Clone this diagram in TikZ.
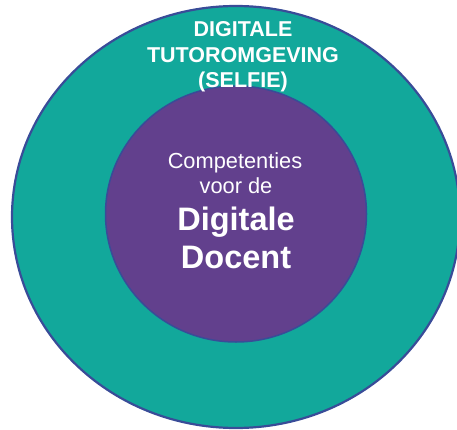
\documentclass[tikz,border=0pt]{standalone}
\usepackage{fontspec}
\usetikzlibrary{shapes.geometric}
\setmainfont{Liberation Sans}
\definecolor{tealbg}{HTML}{12A89B}
\definecolor{purplebg}{HTML}{62408D}
\definecolor{rimblue}{HTML}{394C98}
\begin{document}
\begin{tikzpicture}[x=1pt,y=1pt,
  ring/.style={draw=rimblue},
  toptext/.style={text=white,font=\bfseries\fontsize{21.5}{26}\selectfont,align=center},
  smalltext/.style={text=white,font=\fontsize{21.8}{25}\selectfont,align=center},
  bigtext/.style={text=white,font=\bfseries\fontsize{32.5}{38}\selectfont,align=center}]
\useasboundingbox (0,0) rectangle (457,429);
\begin{scope}
\clip (0,0) rectangle (457,429);
\fill[tealbg] (236,212) ellipse [x radius=224, y radius=211];
\draw[ring,line width=2.2pt] (236,212) ellipse [x radius=224, y radius=211];
\end{scope}
\node[ring,line width=1.5pt,fill=purplebg,ellipse,minimum width=261,minimum height=256,inner sep=0pt] (inner) at (236,215) {};
\node[toptext,anchor=base] (t1) at (243,392) {DIGITALE};
\node[toptext,anchor=base] (t2) at (243,366) {TUTOROMGEVING};
\node[toptext,anchor=base] (t3) at (243,341) {(SELFIE)};
\node[smalltext,anchor=base] (c1) at (235,261) {Competenties};
\node[smalltext,anchor=base] (c2) at (236,236) {voor de};
\node[bigtext,anchor=base] (d1) at (236,199) {Digitale};
\node[bigtext,anchor=base] (d2) at (236,161) {Docent};
\end{tikzpicture}
\end{document}
